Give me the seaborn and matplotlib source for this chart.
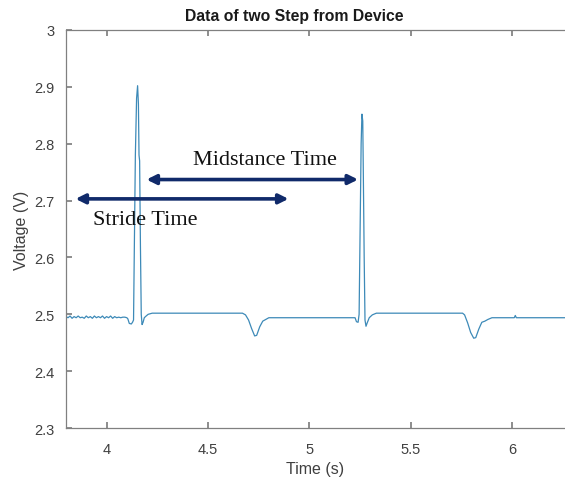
import numpy as np
import pandas as pd
import seaborn as sns
import matplotlib.pyplot as plt

# Voltage trace (time in s, voltage in V)
time_s = [
    3.80, 3.81, 3.82, 3.83, 3.84, 3.85, 3.86, 3.87, 3.88, 3.89,
    3.90, 3.91, 3.92, 3.93, 3.94, 3.95, 3.96, 3.97, 3.98, 3.99,
    4.00, 4.01, 4.02, 4.03, 4.04, 4.05, 4.06, 4.07, 4.08, 4.09, 4.10,
    4.105, 4.112, 4.122, 4.128, 4.133, 4.137, 4.142, 4.148, 4.153, 4.157,
    4.160, 4.163, 4.167, 4.171, 4.175, 4.180, 4.186, 4.195, 4.205, 4.225,
    4.670, 4.685, 4.700, 4.715, 4.730, 4.740, 4.755, 4.770, 4.785, 4.800,
    5.225, 5.232, 5.240, 5.245, 5.250, 5.255, 5.259, 5.263, 5.266, 5.270,
    5.274, 5.279, 5.285, 5.295, 5.310, 5.330,
    5.755, 5.765, 5.780, 5.795, 5.810, 5.820, 5.835, 5.850, 5.865, 5.880,
    5.900, 6.010, 6.015, 6.020, 6.260,
]
voltage_v = [
    2.496, 2.494, 2.497, 2.493, 2.496, 2.494, 2.497, 2.494, 2.495, 2.493,
    2.497, 2.494, 2.496, 2.493, 2.497, 2.494, 2.496, 2.494, 2.497, 2.493,
    2.496, 2.494, 2.497, 2.493, 2.496, 2.494, 2.495, 2.494, 2.495, 2.495, 2.494,
    2.492, 2.484, 2.483, 2.486, 2.490, 2.620, 2.780, 2.880, 2.902, 2.870,
    2.780, 2.770, 2.620, 2.500, 2.482, 2.486, 2.494, 2.497, 2.500, 2.502,
    2.502, 2.499, 2.490, 2.475, 2.462, 2.463, 2.478, 2.488, 2.491, 2.494,
    2.494, 2.487, 2.486, 2.500, 2.650, 2.800, 2.852, 2.840, 2.740, 2.600,
    2.490, 2.479, 2.485, 2.494, 2.499, 2.502,
    2.502, 2.499, 2.485, 2.468, 2.458, 2.459, 2.474, 2.486, 2.488, 2.491,
    2.494, 2.494, 2.498, 2.494, 2.494,
]

x_ticks = [4, 4.5, 5, 5.5, 6]
x_tick_labels = ["4", "4.5", "5", "5.5", "6"]
y_ticks = [2.3, 2.4, 2.5, 2.6, 2.7, 2.8, 2.9, 3.0]
y_tick_labels = ["2.3", "2.4", "2.5", "2.6", "2.7", "2.8", "2.9", "3"]

# annotation arrows: (start, end, level) and labels
stride_span = (3.847, 4.897, 2.703)
midstance_span = (4.197, 5.240, 2.737)
stride_label = ("Stride Time", 4.19, 2.666)
midstance_label = ("Midstance Time", 4.783, 2.773)

sns.set_theme(style="ticks")
plt.rcParams["font.family"] = ["Liberation Sans", "DejaVu Sans"]

df = pd.DataFrame({"Time": time_s, "Voltage": voltage_v})

fig = plt.figure(figsize=(5.65, 4.81), dpi=100)
ax = fig.add_axes([0.1168, 0.108, 0.8832, 0.8276])

sns.lineplot(data=df, x="Time", y="Voltage", ax=ax, sort=False, estimator=None,
             color="#3d8ab8", linewidth=0.9)

ax.set_xlim(3.8, 6.26)
ax.set_ylim(2.3, 3.0)
ax.set_xticks(x_ticks, x_tick_labels)
ax.set_yticks(y_ticks, y_tick_labels)

grey = "#808080"
for side in ["left", "bottom", "top"]:
    ax.spines[side].set_color(grey)
    ax.spines[side].set_linewidth(0.9)
ax.spines["right"].set_visible(False)
ax.tick_params(direction="in", top=True, length=4, color=grey,
               labelsize=10.5, labelcolor="#404040")
ax.tick_params(axis="x", pad=10)
ax.tick_params(axis="y", pad=8)

ax.set_xlabel("Time (s)", fontsize=11.5, color="#404040", labelpad=4)
ax.set_ylabel("Voltage (V)", fontsize=11.5, color="#404040", labelpad=4)

fig.text(294 / 565, 1 - 17 / 481, "Data of two Step from Device",
         ha="center", va="center", fontsize=11.3, fontweight="bold", color="#1a1a1a")

navy = "#102a6a"
for x0, x1, yv in [stride_span, midstance_span]:
    ax.annotate("", xy=(x0, yv), xytext=(x1, yv),
                arrowprops=dict(arrowstyle="<|-|>", color=navy, lw=2.6,
                                mutation_scale=14, shrinkA=0, shrinkB=0))

for label, tx, ty in [stride_label, midstance_label]:
    ax.text(tx, ty, label, ha="center", va="center", fontsize=16,
            family=["Liberation Serif", "DejaVu Serif"], color="#111111")

fig.savefig("out.png", dpi=100)
